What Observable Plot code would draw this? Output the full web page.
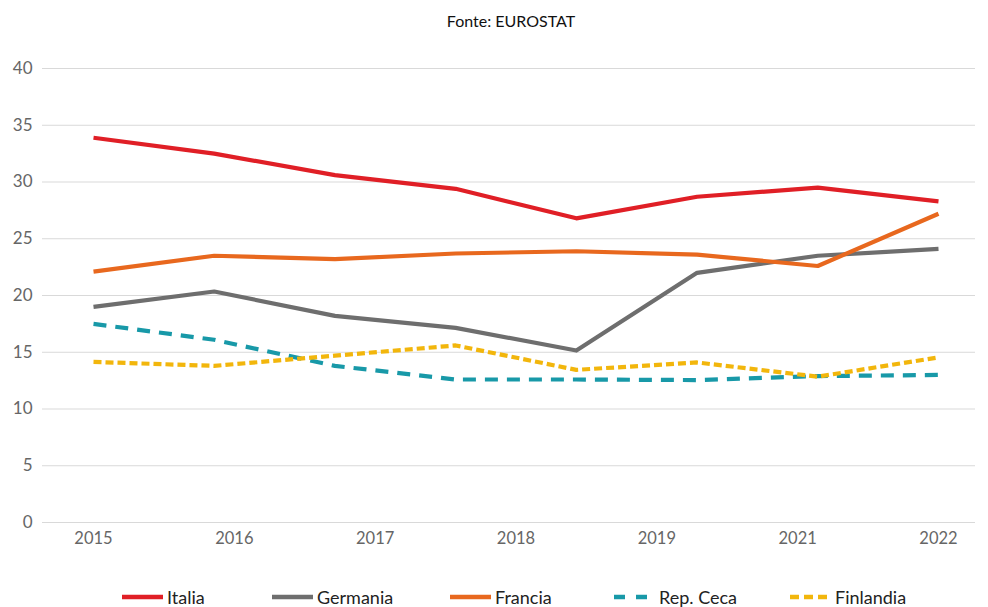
<!DOCTYPE html>
<html><head><meta charset="utf-8">
<script src="https://cdn.jsdelivr.net/npm/d3@7"></script>
<script src="https://cdn.jsdelivr.net/npm/@observablehq/plot@0.6"></script>
<style>
body{margin:0;background:#fff;width:988px;height:607px;overflow:hidden;font-family:Lato,"Open Sans",sans-serif;}
#title{height:40px;line-height:42px;text-align:center;font-family:Lato,"Open Sans",sans-serif;font-size:16px;color:#111;padding-left:34px;}
#legend{position:absolute;top:588px;left:0;width:988px;height:19px;font-family:Lato,"Open Sans",sans-serif;font-size:18px;line-height:18px;color:#222;}
.item{position:absolute;top:0;display:flex;align-items:center;white-space:nowrap;height:18px;}
.item svg{margin-right:4px;}
</style></head>
<body>
<div id="title">Fonte: EUROSTAT</div>
<div id="chart"></div>
<div id="legend"></div>
<script>
const tickLabels = ["2015","2016","2017","2018","2019","2021","2022"];
const pointIndex = [0,1,2,3,4,5,6,7];
const italia    = [33.9,32.5,30.6,29.4,26.8,28.7,29.5,28.3];
const germania  = [19.0,20.35,18.2,17.15,15.15,22.0,23.5,24.1];
const francia   = [22.1,23.5,23.2,23.7,23.9,23.6,22.6,27.2];
const repCeca   = [17.5,16.1,13.8,12.6,12.6,12.55,12.9,13.0];
const finlandia = [14.15,13.8,14.7,15.6,13.45,14.1,12.85,14.55];
const yTicks = [0,5,10,15,20,25,30,35,40];

const series = [
  {name:"Italia", values:italia, color:"#E01F26", dash:null, legendDash:null},
  {name:"Germania", values:germania, color:"#6E6E6E", dash:null, legendDash:null},
  {name:"Francia", values:francia, color:"#E8681E", dash:null, legendDash:null},
  {name:"Rep. Ceca", values:repCeca, color:"#1899A8", dash:"13,9", legendDash:"11,11"},
  {name:"Finlandia", values:finlandia, color:"#F2B60C", dash:"8,4", legendDash:"9,5"}
];
const nPts = pointIndex.length - 1;
const tickPos = tickLabels.map((d,i)=> i * nPts / (tickLabels.length - 1));

const marks = [
  Plot.gridY(yTicks, {stroke:"#d9d9d9", strokeOpacity:1, strokeWidth:1}),
  Plot.axisY(yTicks, {tickSize:0, tickPadding:10, fontSize:17, fill:"#666", label:null}),
  Plot.axisX(tickPos, {tickSize:0, tickPadding:10, fontSize:16.5, fill:"#666", label:null, tickFormat:(d,i)=>tickLabels[i]})
];
for (const s of series) {
  const data = pointIndex.map((x,i)=>({x, y:s.values[i]}));
  marks.push(Plot.line(data, {x:"x", y:"y", stroke:s.color, strokeWidth:4.2, strokeDasharray:s.dash, strokeLinecap:"butt", strokeLinejoin:"round"}));
}

const chart = Plot.plot({
  width:988, height:530,
  marginLeft:42, marginRight:13, marginTop:28, marginBottom:48,
  x:{type:"linear", domain:[-51/120.7, 7+37/120.7]},
  y:{domain:[0,40]},
  style:{fontFamily:"Lato, 'Open Sans', sans-serif", background:"#fff"},
  marks
});
document.getElementById("chart").appendChild(chart);

const legend = document.getElementById("legend");
const legendX = [122, 272, 450, 614, 790];
series.forEach((s,i)=>{
  const it = document.createElement("div");
  it.className = "item";
  it.style.left = legendX[i] + "px";
  const w = 41;
  it.innerHTML = `<svg width="${w}" height="10"><line x1="0" x2="${w}" y1="5" y2="5" stroke="${s.color}" stroke-width="4.5" ${s.legendDash?`stroke-dasharray="${s.legendDash}"`:""}/></svg><span>${s.name}</span>`;
  legend.appendChild(it);
});
</script>
</body></html>
